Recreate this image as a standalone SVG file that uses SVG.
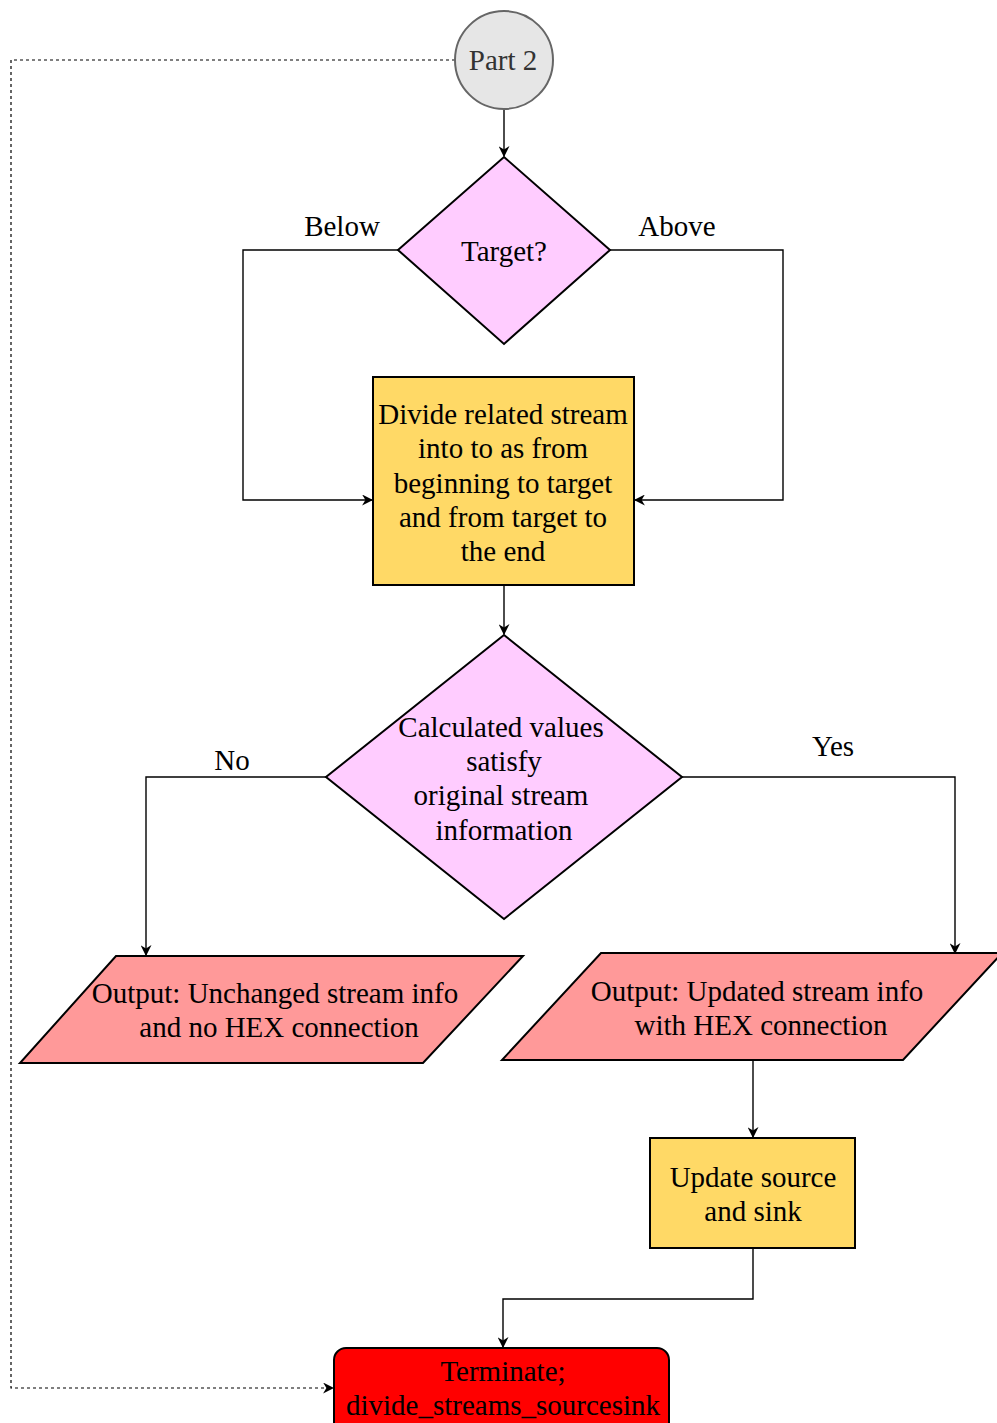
<svg xmlns="http://www.w3.org/2000/svg" width="997" height="1423" viewBox="0 0 997 1423">
  <style>
    text { font-family: "Liberation Serif", "Times New Roman", serif; font-size: 29px; fill: #000; text-anchor: middle; }
    .node { stroke: #000; stroke-width: 2; }
    .edge { fill: none; stroke: #000; stroke-width: 1.4; }
    .dash { fill: none; stroke: #000; stroke-width: 1.2; stroke-dasharray: 3 3; }
  </style>
  <defs>
    <marker id="arrow" viewBox="0 0 10 10" refX="9" refY="5" markerWidth="11" markerHeight="11" markerUnits="userSpaceOnUse" orient="auto">
      <path d="M0,0 L10,5 L0,10 L3,5 Z" fill="#000"/>
    </marker>
  </defs>

  <g id="connectors">
    <path class="edge" d="M504,109 V156" marker-end="url(#arrow)"/>
    <path class="edge" d="M398,250 H243 V500 H372" marker-end="url(#arrow)"/>
    <path class="edge" d="M610,250 H783 V500 H635" marker-end="url(#arrow)"/>
    <path class="edge" d="M504,585 V634" marker-end="url(#arrow)"/>
    <path class="edge" d="M326,777 H146 V955" marker-end="url(#arrow)"/>
    <path class="edge" d="M682,777 H955 V953" marker-end="url(#arrow)"/>
    <path class="edge" d="M753,1060 V1137" marker-end="url(#arrow)"/>
    <path class="edge" d="M753,1248 V1299 H503 V1347" marker-end="url(#arrow)"/>
    <path class="dash" d="M455,60 H11 V1388 H333" marker-end="url(#arrow)"/>
    <text x="342" y="236">Below</text>
    <text x="677" y="236">Above</text>
    <text x="232" y="770">No</text>
    <text x="833" y="756">Yes</text>
  </g>

  <g id="part2">
    <circle cx="504" cy="60" r="49" fill="#e6e6e6" stroke="#666" stroke-width="2"/>
    <text x="503" y="70" style="fill:#333">Part 2</text>
  </g>

  <g id="target">
    <polygon class="node" points="504,157 610,250 504,344 398,250" fill="#ffccff"/>
    <text x="504" y="261">Target?</text>
  </g>

  <g id="divide">
    <rect class="node" x="373" y="377" width="261" height="208" fill="#ffd966"/>
    <text x="503" y="424">Divide related stream</text>
    <text x="503" y="458">into to as from</text>
    <text x="503" y="493">beginning to target</text>
    <text x="503" y="527">and from target to</text>
    <text x="503" y="561">the end</text>
  </g>

  <g id="check">
    <polygon class="node" points="504,635 682,777 504,919 326,777" fill="#ffccff"/>
    <text x="501" y="737">Calculated values</text>
    <text x="504" y="771">satisfy</text>
    <text x="501" y="805">original stream</text>
    <text x="504" y="840">information</text>
  </g>

  <g id="out-unchanged">
    <polygon class="node" points="116,956 523,956 423,1063 20,1063" fill="#ff9999"/>
    <text x="275" y="1003">Output: Unchanged stream info</text>
    <text x="279" y="1037">and no HEX connection</text>
  </g>

  <g id="out-updated">
    <polygon class="node" points="601,953 1002,953 903,1060 502,1060" fill="#ff9999"/>
    <text x="757" y="1001">Output: Updated stream info</text>
    <text x="761" y="1035">with HEX connection</text>
  </g>

  <g id="update">
    <rect class="node" x="650" y="1138" width="205" height="110" fill="#ffd966"/>
    <text x="753" y="1187">Update source</text>
    <text x="753" y="1221">and sink</text>
  </g>

  <g id="terminate">
    <rect class="node" x="334" y="1348" width="335" height="95" rx="12" fill="#ff0000"/>
    <text x="503" y="1381">Terminate;</text>
    <text x="503" y="1415">divide_streams_sourcesink</text>
  </g>
</svg>
